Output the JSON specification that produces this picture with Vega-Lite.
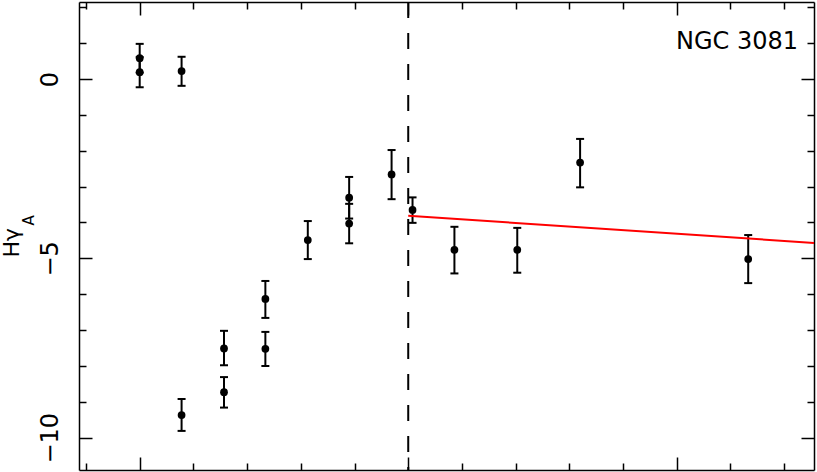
{
  "$schema": "https://vega.github.io/schema/vega-lite/v6.json",
  "width": 735,
  "height": 468,
  "autosize": "none",
  "padding": {"left": 79, "top": 2, "right": 3, "bottom": 2},
  "background": "white",
  "config": {
    "view": {"stroke": null},
    "axis": {"grid": false, "domainColor": "black", "tickColor": "black", "domainWidth": 1.5, "tickWidth": 1.5, "labelColor": "black", "titleColor": "black"}
  },
  "title": {"text": "NGC  3081", "anchor": "end", "frame": "group", "orient": "top", "offset": 0, "dx": -16, "dy": 72, "font": "DejaVu Sans", "fontSize": 24, "fontWeight": "normal", "color": "black", "baseline": "alphabetic"},
  "resolve": {"scale": {"x": "independent", "y": "independent"}},
  "layer": [
    {
      "data": {"values": [
        {"x": -5.0, "y": 0.58, "lo": 0.18, "hi": 0.98},
        {"x": -5.0, "y": 0.19, "lo": -0.23, "hi": 0.61},
        {"x": -4.22, "y": 0.22, "lo": -0.19, "hi": 0.62},
        {"x": -4.22, "y": -9.37, "lo": -9.81, "hi": -8.92},
        {"x": -3.43, "y": -7.51, "lo": -7.98, "hi": -7.02},
        {"x": -3.43, "y": -8.73, "lo": -9.16, "hi": -8.31},
        {"x": -2.66, "y": -7.52, "lo": -8.00, "hi": -7.05},
        {"x": -2.66, "y": -6.13, "lo": -6.66, "hi": -5.63},
        {"x": -1.87, "y": -4.49, "lo": -5.02, "hi": -3.96},
        {"x": -1.10, "y": -3.31, "lo": -3.89, "hi": -2.73},
        {"x": -1.10, "y": -4.03, "lo": -4.58, "hi": -3.48},
        {"x": -0.31, "y": -2.66, "lo": -3.35, "hi": -1.98},
        {"x": 0.08, "y": -3.65, "lo": -4.01, "hi": -3.30},
        {"x": 0.86, "y": -4.76, "lo": -5.42, "hi": -4.12},
        {"x": 2.03, "y": -4.76, "lo": -5.40, "hi": -4.15},
        {"x": 3.20, "y": -2.33, "lo": -3.02, "hi": -1.67},
        {"x": 6.33, "y": -5.02, "lo": -5.69, "hi": -4.35}
      ]},
      "encoding": {
        "x": {"field": "x", "type": "quantitative", "scale": {"domain": [-6.13, 7.555], "nice": false, "zero": false}, "axis": null}
      },
      "layer": [
        {
          "mark": {"type": "rule", "color": "black", "strokeWidth": 2},
          "encoding": {
            "y": {"field": "lo", "type": "quantitative", "scale": {"domain": [-10.9, 2.147], "nice": false, "zero": false}, "axis": null},
            "y2": {"field": "hi"}
          }
        },
        {
          "mark": {"type": "tick", "orient": "horizontal", "color": "black", "size": 8, "thickness": 2, "opacity": 1},
          "encoding": {"y": {"field": "lo", "type": "quantitative", "axis": null}}
        },
        {
          "mark": {"type": "tick", "orient": "horizontal", "color": "black", "size": 8, "thickness": 2, "opacity": 1},
          "encoding": {"y": {"field": "hi", "type": "quantitative", "axis": null}}
        },
        {
          "mark": {"type": "point", "filled": true, "color": "black", "size": 60, "opacity": 1},
          "encoding": {"y": {"field": "y", "type": "quantitative", "axis": null}}
        },
        {
          "data": {"values": [{"x": 0, "y": -3.81}, {"x": 7.555, "y": -4.57}]},
          "mark": {"type": "line", "color": "#ff0000", "strokeWidth": 2},
          "encoding": {"y": {"field": "y", "type": "quantitative", "axis": null}}
        },
        {
          "data": {"values": [{"x": 0}]},
          "mark": {"type": "rule", "color": "black", "strokeWidth": 2, "strokeDash": [16, 15]},
          "encoding": {}
        }
      ]
    },
    {
      "data": {"values": [{}]},
      "mark": {"type": "point", "opacity": 0},
      "encoding": {
        "x": {"datum": 0, "type": "quantitative", "scale": {"domain": [-6.13, 7.555], "nice": false, "zero": false},
          "axis": {"orient": "bottom", "values": [-6, -5, -4, -3, -2, -1, 0, 1, 2, 3, 4, 5, 6, 7], "tickSize": {"condition": {"test": "datum.value % 5 === 0", "value": -13}, "value": -7}, "labels": false, "title": null}},
        "y": {"datum": 0, "type": "quantitative", "scale": {"domain": [-10.9, 2.147], "nice": false, "zero": false},
          "axis": {"orient": "left", "values": [-10, -9, -8, -7, -6, -5, -4, -3, -2, -1, 0, 1, 2], "tickSize": {"condition": {"test": "datum.value % 5 === 0", "value": -13}, "value": -7},
            "labelExpr": "datum.value % 5 === 0 ? datum.label : ''", "labelPadding": 35, "labelAngle": -90, "labelAlign": "center", "labelBaseline": "alphabetic", "labelFont": "DejaVu Sans", "labelFontSize": 24, "labelFlush": false, "labelOverlap": false,
            "title": "Hγ", "titleFont": "DejaVu Sans", "titleFontSize": 22, "titleFontWeight": "normal", "titleX": -61, "titleY": 255, "titleAlign": "left", "titleBaseline": "alphabetic", "titleAngle": 270}}
      }
    },
    {
      "data": {"values": [{}]},
      "mark": {"type": "point", "opacity": 0},
      "encoding": {
        "x": {"datum": 0, "type": "quantitative", "scale": {"domain": [-6.13, 7.555], "nice": false, "zero": false},
          "axis": {"orient": "top", "values": [-6, -5, -4, -3, -2, -1, 0, 1, 2, 3, 4, 5, 6, 7], "tickSize": {"condition": {"test": "datum.value % 5 === 0", "value": -13}, "value": -7}, "labels": false, "title": null}},
        "y": {"datum": 0, "type": "quantitative", "scale": {"domain": [-10.9, 2.147], "nice": false, "zero": false},
          "axis": {"orient": "right", "values": [-10, -9, -8, -7, -6, -5, -4, -3, -2, -1, 0, 1, 2], "tickSize": {"condition": {"test": "datum.value % 5 === 0", "value": -13}, "value": -7}, "labels": false,
            "title": "A", "titleFont": "DejaVu Sans", "titleFontSize": 15, "titleFontWeight": "normal", "titleX": -781, "titleY": 223, "titleAlign": "left", "titleBaseline": "alphabetic", "titleAngle": 270}}
      }
    }
  ]
}
